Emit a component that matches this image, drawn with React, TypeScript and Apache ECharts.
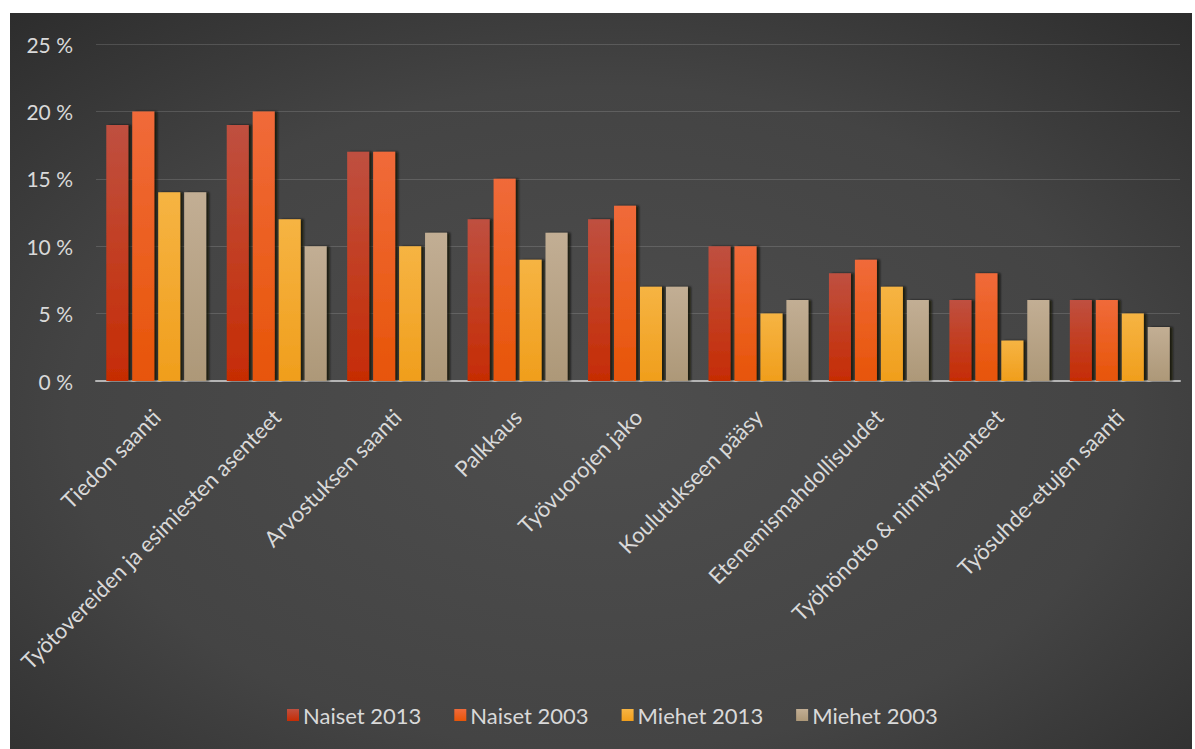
import React, { useEffect, useRef } from "react";
import * as echarts from "echarts";

const categories = [
  "Tiedon saanti",
  "Työtovereiden ja esimiesten asenteet",
  "Arvostuksen saanti",
  "Palkkaus",
  "Työvuorojen jako",
  "Koulutukseen pääsy",
  "Etenemismahdollisuudet",
  "Työhönotto & nimitystilanteet",
  "Työsuhde-etujen saanti",
];

const naiset2013 = [19, 19, 17, 12, 12, 10, 8, 6, 6];
const naiset2003 = [20, 20, 17, 15, 13, 10, 9, 8, 6];
const miehet2013 = [14, 12, 10, 9, 7, 5, 7, 3, 5];
const miehet2003 = [14, 10, 11, 11, 7, 6, 6, 6, 4];

const seriesNames = ["Naiset 2013", "Naiset 2003", "Miehet 2013", "Miehet 2003"];
const seriesData = [naiset2013, naiset2003, miehet2013, miehet2003];
const seriesColors = [
  ["#bf5040", "#c62c04"],
  ["#f06a3a", "#e75508"],
  ["#f6b443", "#f09e1c"],
  ["#c2ae94", "#ad9878"],
];

const yTicks = [0, 5, 10, 15, 20, 25];

const FONT = "Lato, 'Open Sans', sans-serif";

export default function App() {
  const ref = useRef<HTMLDivElement>(null);
  useEffect(() => {
    if (!ref.current) return;
    const chart = echarts.init(ref.current, undefined, { renderer: "svg" });
    const grad = (c: string[]) =>
      new echarts.graphic.LinearGradient(0, 0, 0, 1, [
        { offset: 0, color: c[0] },
        { offset: 1, color: c[1] },
      ]);
    chart.setOption({
      animation: false,
      backgroundColor: "#ffffff",
      graphic: [
        {
          type: "rect",
          z: -10,
          zlevel: 0,
          silent: true,
          shape: { x: 10, y: 13, width: 1182, height: 736 },
          style: {
            fill: new echarts.graphic.RadialGradient(0.5, 0.55, 0.75, [
              { offset: 0, color: "#4e4e4e" },
              { offset: 0.6, color: "#444444" },
              { offset: 1, color: "#2c2c2c" },
            ]),
          },
        },
      ],
      grid: { left: 96, right: 15, top: 44, bottom: 368 },
      legend: {
        data: seriesNames.map((n, i) => ({
          name: n,
          itemStyle: { color: grad(seriesColors[i]) },
        })),
        bottom: 18,
        left: 282,
        itemWidth: 12,
        itemHeight: 12,
        itemGap: 33,
        icon: "rect",
        textStyle: { color: "#d9d9d9", fontSize: 22, fontFamily: FONT, padding: [0, 0, 0, -1] },
      },
      xAxis: {
        type: "category",
        data: categories,
        axisLine: { lineStyle: { color: "#b4b4b4", width: 2 } },
        axisTick: { show: false },
        axisLabel: {
          interval: 0,
          rotate: 45,
          margin: 32,
          color: "#d9d9d9",
          fontSize: 22,
          fontFamily: FONT,
        },
      },
      yAxis: {
        type: "value",
        min: 0,
        max: 25,
        interval: 5,
        axisLine: { show: false },
        axisTick: { show: false },
        splitLine: { lineStyle: { color: "rgba(255,255,255,0.14)", width: 1 } },
        axisLabel: {
          formatter: (v: number) => (yTicks.includes(v) ? `${v} %` : ""),
          color: "#d9d9d9",
          fontSize: 21,
          fontFamily: FONT,
          margin: 23,
        },
      },
      series: seriesNames.map((n, i) => ({
        name: n,
        type: "bar",
        data: seriesData[i],
        barWidth: 22,
        barGap: "18%",
        itemStyle: {
          color: grad(seriesColors[i]),
          shadowColor: "rgba(20,8,0,0.75)",
          shadowOffsetX: 3,
          shadowOffsetY: 0,
          shadowBlur: 2,
        },
      })),
    });
    return () => chart.dispose();
  }, []);
  return (
    <div
      ref={ref}
      style={{ position: "fixed", left: 0, top: 0, width: 1195, height: 749 }}
    />
  );
}
